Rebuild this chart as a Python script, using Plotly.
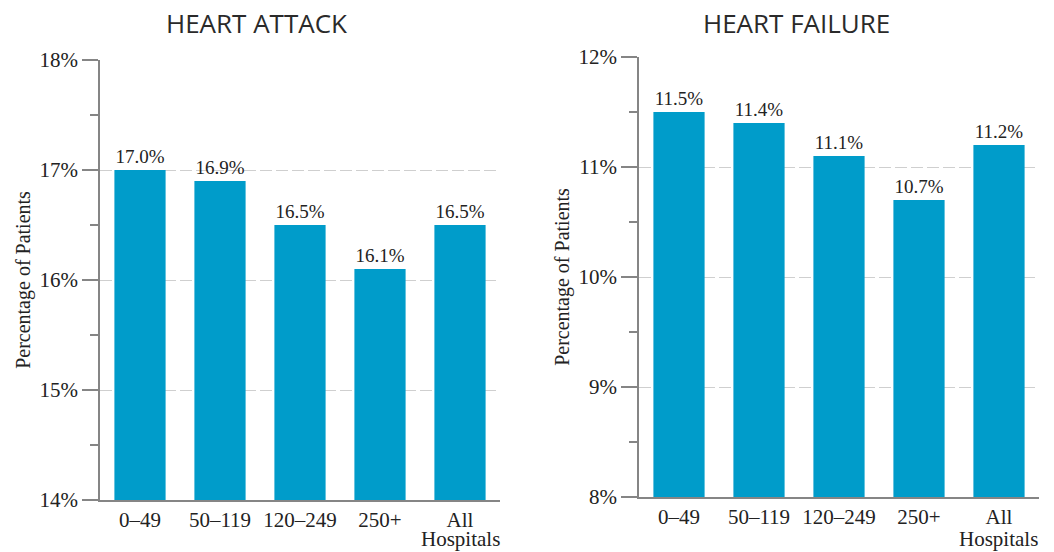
import plotly.graph_objects as go
from plotly.subplots import make_subplots

# Hospital size groups (annual volume) and outcome rates, in percent
categories = ["0–49", "50–119", "120–249", "250+", "All Hospitals"]
tick_labels = ["0–49", "50–119", "120–249", "250+", "All"]
heart_attack = [17.0, 16.9, 16.5, 16.1, 16.5]
heart_failure = [11.5, 11.4, 11.1, 10.7, 11.2]

panel_titles = ["HEART ATTACK", "HEART FAILURE"]
y_ranges = [[14, 18], [8, 12]]

W, H = 1054, 552
BAR = "#009CCA"
AXIS = "#858585"
SERIF = "Liberation Serif"

fig = make_subplots(rows=1, cols=2)

for i, vals in enumerate([heart_attack, heart_failure], start=1):
    fig.add_trace(
        go.Bar(
            x=categories,
            y=vals,
            marker=dict(color=BAR, line=dict(width=0)),
            width=0.64,
            text=[f"{v:.1f}%" for v in vals],
            textposition="outside",
            textfont=dict(family=SERIF, size=19, color="#222"),
            cliponaxis=False,
            hoverinfo="skip",
        ),
        row=1, col=i,
    )

# pixel layout of the two panels
x_dom = [[100 / W, 500 / W], [639 / W, 1039 / W]]
y_dom = [[(H - 500) / H, (H - 60) / H], [(H - 497) / H, (H - 57) / H]]
title_x = [256, 796]

for i in range(2):
    sx = "" if i == 0 else "2"
    lo, hi = y_ranges[i]
    ticks = list(range(lo, hi + 1))
    fig.layout[f"xaxis{sx}"].update(
        domain=x_dom[i],
        range=[-0.5, 4.5],
        automargin=False,
        tickvals=categories,
        ticktext=tick_labels,
        showline=True, linecolor=AXIS, linewidth=1.5,
        ticks="", showgrid=False,
        tickfont=dict(family=SERIF, size=21, color="#222"),
        ticklabelstandoff=0,
    )
    fig.layout[f"yaxis{sx}"].update(
        domain=y_dom[i],
        range=[lo, hi],
        automargin=False,
        tickvals=ticks,
        ticktext=[f"{t}%" for t in ticks],
        showline=True, linecolor=AXIS, linewidth=1.5,
        ticks="outside", ticklen=16, tickcolor=AXIS, tickwidth=1.5,
        minor=dict(dtick=0.5, ticks="outside", ticklen=8, tickcolor=AXIS,
                   tickwidth=1.5, showgrid=False),
        showgrid=True, gridcolor="#cfcfcf", gridwidth=1, griddash="12px,4px",
        zeroline=False,
        tickfont=dict(family=SERIF, size=21, color="#222"),
        title=dict(text="Percentage of Patients",
                   font=dict(family=SERIF, size=20, color="#222"),
                   standoff=4),
    )
    # second line of the "All Hospitals" category label
    fig.add_annotation(
        text="Hospitals",
        x=categories[-1], xref=f"x{sx}",
        y=0, yref="paper",
        xanchor="center", yanchor="bottom",
        borderpad=0,
        showarrow=False,
        font=dict(family=SERIF, size=21, color="#222"),
    )
    fig.add_annotation(
        text=panel_titles[i],
        x=title_x[i] / W,
        y=(H - 23) / H,
        xref="paper", yref="paper",
        xanchor="center", yanchor="middle",
        showarrow=False,
        font=dict(family="Open Sans", size=26, color="#2a2a2a"),
    )

fig.update_layout(
    width=W, height=H,
    margin=dict(l=0, r=0, t=0, b=0),
    plot_bgcolor="white", paper_bgcolor="white",
    showlegend=False,
    bargap=0.36,
)

fig.write_html("out.html")
